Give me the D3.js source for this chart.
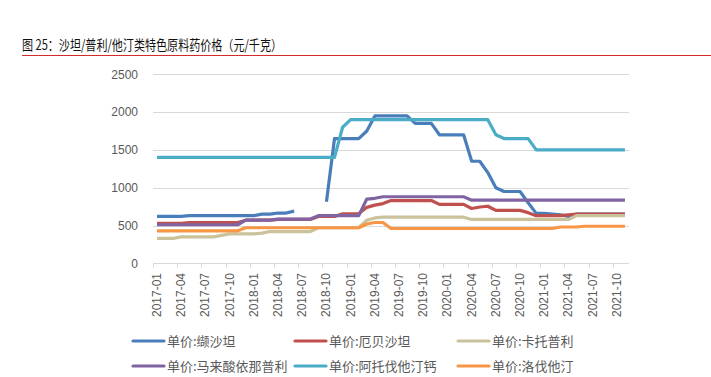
<!DOCTYPE html>
<html>
<head>
<meta charset="utf-8">
<script src="https://cdn.jsdelivr.net/npm/d3@7"></script>
<style>
  body { margin: 0; background: #fff; }
  text { font-family: "Liberation Sans", Arial, sans-serif; }
  .cjk { font-family: "Noto Sans CJK SC", sans-serif; }
</style>
</head>
<body>
<svg></svg>
<script>
let width = 711, height = 377;

// months 2017-01 .. 2021-11
let months = [
  "2017-01","2017-02","2017-03","2017-04","2017-05","2017-06","2017-07","2017-08","2017-09","2017-10","2017-11","2017-12",
  "2018-01","2018-02","2018-03","2018-04","2018-05","2018-06","2018-07","2018-08","2018-09","2018-10","2018-11","2018-12",
  "2019-01","2019-02","2019-03","2019-04","2019-05","2019-06","2019-07","2019-08","2019-09","2019-10","2019-11","2019-12",
  "2020-01","2020-02","2020-03","2020-04","2020-05","2020-06","2020-07","2020-08","2020-09","2020-10","2020-11","2020-12",
  "2021-01","2021-02","2021-03","2021-04","2021-05","2021-06","2021-07","2021-08","2021-09","2021-10","2021-11"
];

let valsartan = [620,620,620,620,630,630,630,630,630,630,630,630,630,650,650,665,665,690,null,null,null,815,1650,1650,1650,1650,1750,1950,1950,1950,1950,1950,1850,1850,1850,1700,1700,1700,1700,1350,1350,1200,1000,950,950,950,800,660,660,650,640,620,650,650,650,650,650,650,650];
let irbesartan = [530,530,530,530,540,540,540,540,540,540,540,570,570,570,570,580,580,580,580,580,620,620,620,655,655,655,740,770,790,830,830,830,830,830,830,780,780,780,780,725,745,755,700,700,700,700,670,630,630,630,630,640,650,650,650,650,650,650,650];
let captopril = [330,330,330,350,350,350,350,350,370,390,390,390,390,400,420,420,420,420,420,420,470,470,470,470,470,470,570,600,610,610,610,610,610,610,610,610,610,610,610,580,580,580,580,580,580,580,580,580,580,580,580,580,630,630,630,630,630,630,630];
let enalapril = [510,510,510,510,510,510,510,510,510,510,510,570,570,570,570,585,585,585,585,585,630,630,630,630,630,630,850,860,880,880,880,880,880,880,880,880,880,880,880,835,835,835,835,835,835,835,835,835,835,835,835,835,835,835,835,835,835,835,835];
let atorvastatin = [1400,1400,1400,1400,1400,1400,1400,1400,1400,1400,1400,1400,1400,1400,1400,1400,1400,1400,1400,1400,1400,1400,1400,1800,1900,1900,1900,1900,1900,1900,1900,1900,1900,1900,1900,1900,1900,1900,1900,1900,1900,1900,1700,1650,1650,1650,1650,1500,1500,1500,1500,1500,1500,1500,1500,1500,1500,1500,1500];
let lovastatin = [430,430,430,430,430,430,430,430,430,430,430,470,470,470,470,470,470,470,470,470,470,470,470,470,470,470,520,540,540,460,460,460,460,460,460,460,460,460,460,460,460,460,460,460,460,460,460,460,460,460,480,480,480,490,490,490,490,490,490];

let seriesNames = ["单价:缬沙坦","单价:厄贝沙坦","单价:卡托普利","单价:马来酸依那普利","单价:阿托伐他汀钙","单价:洛伐他汀"];
let seriesColors = ["#4a7ebb","#c0504d","#c9c29b","#8064a2","#4bacc6","#f79646"];
let yTicks = [0, 500, 1000, 1500, 2000, 2500];

let series = [valsartan, irbesartan, captopril, enalapril, atorvastatin, lovastatin].map((vals, k) => ({
  name: seriesNames[k], color: seriesColors[k], values: vals
}));

let svg = d3.select("svg")
    .attr("width", width)
    .attr("height", height);

// title
svg.append("text")
    .attr("class", "cjk")
    .attr("x", 22)
    .attr("y", 50)
    .attr("textLength", 260)
    .attr("lengthAdjust", "spacingAndGlyphs")
    .style("font-size", "14px")
    .style("fill", "#111")
    .text("图 25：沙坦/普利/他汀类特色原料药价格（元/千克）");

svg.append("line")
    .attr("x1", 22).attr("x2", 711)
    .attr("y1", 55.5).attr("y2", 55.5)
    .style("stroke", "#d42a2a")
    .style("stroke-width", 1);

let x = d3.scaleBand()
    .domain(months)
    .range([153, 629])
    .padding(0);

let y = d3.scaleLinear()
    .domain([0, 2500])
    .range([263.3, 74.3]);

// gridlines
svg.append("g")
    .selectAll("line")
    .data(yTicks.filter(d => d > 0))
    .enter()
    .append("line")
    .attr("x1", 153).attr("x2", 629)
    .attr("y1", d => Math.round(y(d)) + 0.5)
    .attr("y2", d => Math.round(y(d)) + 0.5)
    .style("stroke", "#d9d9d9")
    .style("stroke-width", 1);

// y labels
svg.append("g")
    .selectAll("text")
    .data(yTicks)
    .enter()
    .append("text")
    .attr("x", 138)
    .attr("y", d => y(d))
    .attr("dy", "0.35em")
    .attr("text-anchor", "end")
    .style("font-size", "12px")
    .style("fill", "#595959")
    .text(d => d);

// x axis line + ticks
let axisY = Math.round(y(0)) + 0.5;
svg.append("line")
    .attr("x1", 153).attr("x2", 629)
    .attr("y1", axisY).attr("y2", axisY)
    .style("stroke", "#d9d9d9");

let tickMonths = months.filter((m, i) => i % 3 === 0);
svg.append("g")
    .selectAll("line")
    .data(tickMonths)
    .enter()
    .append("line")
    .attr("x1", d => Math.round(x(d)) + 0.5)
    .attr("x2", d => Math.round(x(d)) + 0.5)
    .attr("y1", axisY).attr("y2", axisY + 4)
    .style("stroke", "#d9d9d9");

svg.append("g")
    .selectAll("text")
    .data(tickMonths)
    .enter()
    .append("text")
    .attr("transform", d => "translate(" + (x(d) + x.bandwidth() / 2 + 4) + "," + 273 + ") rotate(-90)")
    .attr("text-anchor", "end")
    .style("font-size", "12px")
    .style("fill", "#595959")
    .text(d => d);

// lines
let line = d3.line()
    .defined(d => d.v !== null)
    .x(d => x(d.m) + x.bandwidth() / 2)
    .y(d => y(d.v));

svg.append("g")
    .selectAll("path")
    .data(series)
    .enter()
    .append("path")
    .attr("fill", "none")
    .attr("stroke", d => d.color)
    .attr("stroke-width", 3.2)
    .attr("stroke-linejoin", "round")
    .attr("d", d => line(d.values.map((v, i) => ({ m: months[i], v: v }))));

// legend
let legendPos = [[133, 341], [295, 341], [458, 341], [133, 366], [295, 366], [458, 366]];
let legend = svg.append("g")
    .selectAll("g")
    .data(series)
    .enter()
    .append("g")
    .attr("transform", (d, i) => "translate(" + legendPos[i][0] + "," + legendPos[i][1] + ")");

legend.append("line")
    .attr("x1", 0).attr("x2", 31)
    .attr("y1", 0).attr("y2", 0)
    .attr("stroke", d => d.color)
    .attr("stroke-width", 3.2)
    .attr("stroke-linecap", "round");

legend.append("text")
    .attr("class", "cjk")
    .attr("x", 34)
    .attr("y", 0)
    .attr("dy", "0.35em")
    .style("font-size", "13px")
    .style("fill", "#595959")
    .text(d => d.name);
</script>
</body>
</html>
